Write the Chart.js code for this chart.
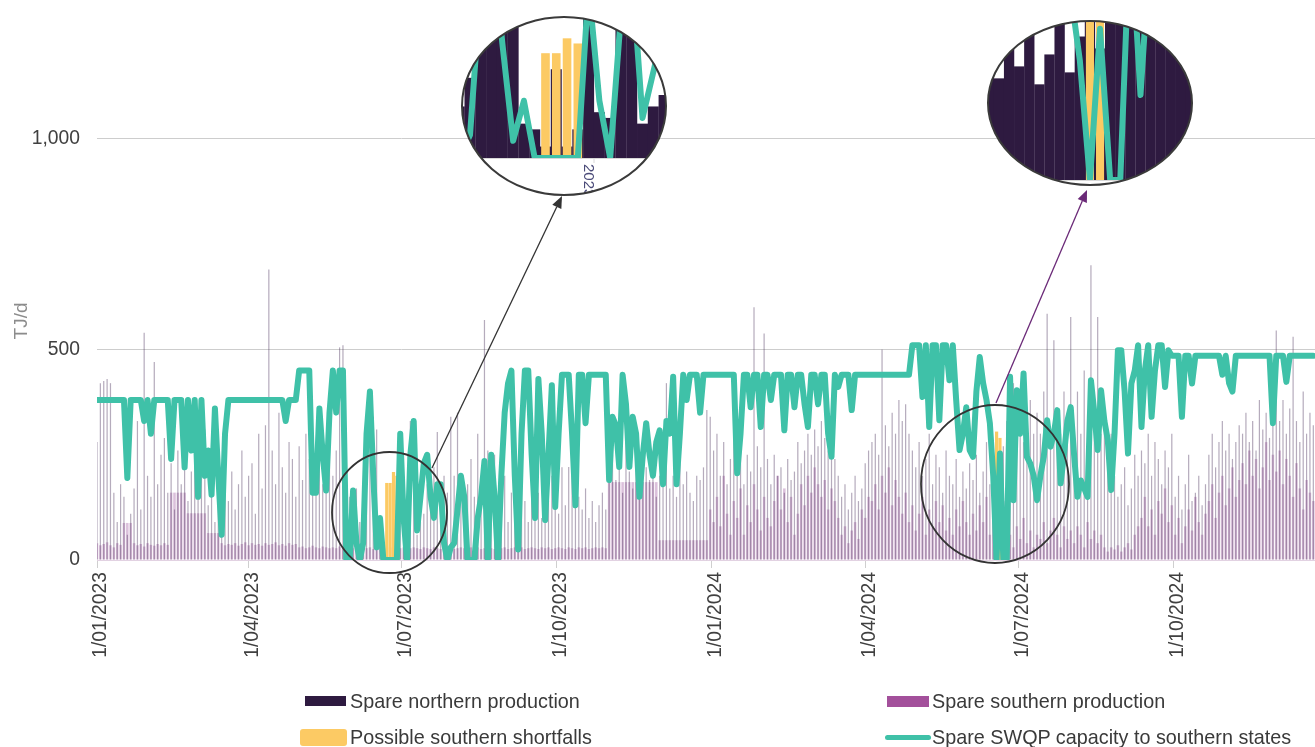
<!DOCTYPE html>
<html><head><meta charset="utf-8">
<script src="https://cdn.jsdelivr.net/npm/chart.js@4.4.1/dist/chart.umd.min.js"></script>
<style>
html,body{margin:0;padding:0;background:#fff;}
#wrap{position:relative;width:1315px;height:747px;overflow:hidden;}
canvas{position:absolute;left:0;top:0;}
.lg{position:absolute;font-family:"Liberation Sans",Arial,sans-serif;font-size:19.8px;color:#3a3a3a;white-space:nowrap;line-height:24px;}
.sw{position:absolute;}
</style></head><body>
<div id="wrap">
<canvas id="c" width="1315" height="747"></canvas>
<div class="sw" style="left:305px;top:696px;width:41px;height:10px;background:#2e1a40"></div>
<div class="lg" style="left:350px;top:689px">Spare northern production</div>
<div class="sw" style="left:887px;top:696px;width:42px;height:11px;background:#a3509b"></div>
<div class="lg" style="left:932px;top:689px">Spare southern production</div>
<div class="sw" style="left:300px;top:729px;width:47px;height:17px;background:#fcca64;border-radius:3px"></div>
<div class="lg" style="left:350px;top:725px">Possible southern shortfalls</div>
<div class="sw" style="left:885px;top:735px;width:46px;height:5px;background:#3fc1a8;border-radius:3px"></div>
<div class="lg" style="left:932px;top:725px">Spare SWQP capacity to southern states</div>
</div>
<script>
// ---- data (one value every 2 days from 1/01/2023) ----
const stepDays = 2;
const tickDays = [0, 90, 181, 273, 365, 456, 547, 639];
const tickLabels = ['1/01/2023','1/04/2023','1/07/2023','1/10/2023','1/01/2024','1/04/2024','1/07/2024','1/10/2024'];
const yTicks = [0, 500, 1000];

const swqp = [
380,380,380,380,380,380,380,380,380,195,
380,380,380,380,330,380,300,380,380,380,
380,380,240,380,380,380,220,380,260,380,
150,380,200,260,155,360,200,60,300,380,
380,380,380,380,380,380,380,380,380,380,
380,380,380,380,380,380,330,380,380,380,
450,450,450,450,160,160,360,250,165,350,
450,350,450,450,0,0,165,40,0,40,
300,400,200,30,100,0,0,0,0,0,
300,100,0,250,330,70,150,230,250,150,
100,180,180,40,0,30,40,120,200,150,
0,0,0,100,150,235,0,250,150,0,
200,350,420,450,200,25,300,450,450,250,
100,430,300,95,250,415,126,300,440,440,
440,300,130,440,440,325,440,440,440,440,
440,440,190,340,320,221,440,370,221,340,
300,150,250,325,250,200,280,308,180,330,
300,435,180,300,440,380,440,440,440,350,
440,440,440,440,440,440,440,440,440,440,
206,300,440,440,363,440,440,316,440,440,
380,440,440,440,308,440,440,363,440,440,
370,316,440,440,370,440,440,300,245,440,
411,440,440,440,356,440,440,440,440,440,
440,440,440,440,440,440,440,440,440,440,
440,440,510,510,510,387,510,316,510,510,
332,510,510,427,510,380,261,300,363,261,
245,400,482,420,380,325,200,0,253,0,
0,435,142,403,300,443,245,229,200,142,
200,245,332,269,300,356,182,250,330,363,
250,150,189,170,150,427,350,261,403,330,
285,166,300,498,498,400,253,419,450,510,
316,450,510,340,450,510,510,411,498,485,
485,485,340,485,485,419,485,485,485,485,
485,485,485,485,440,485,420,400,485,485,
485,485,485,485,485,485,485,485,485,325,
485,485,485,423,485,485,485,485,485,485,
485,485
];

const northern = [
280,420,425,430,420,160,90,180,150,60,
110,170,330,120,540,200,150,470,180,250,
290,160,230,120,260,180,300,140,210,250,
170,240,310,130,200,90,180,160,230,140,
210,120,180,260,150,200,230,110,300,170,
320,690,260,180,350,220,160,280,240,150,
270,190,300,240,160,210,280,180,250,310,
200,260,505,510,180,150,120,170,90,140,
330,320,340,310,60,50,20,155,20,50,
300,80,70,330,320,60,90,110,180,150,
220,304,180,200,160,340,200,350,160,130,
180,240,150,300,200,570,260,180,250,150,
120,200,90,160,130,100,180,140,90,150,
120,160,100,180,140,200,150,110,220,130,
221,200,221,150,120,170,100,140,90,130,
160,120,200,250,190,230,160,280,210,170,
250,180,300,220,190,260,150,200,230,420,
170,200,150,230,180,210,160,140,200,190,
220,356,340,260,300,200,280,180,240,300,
230,260,180,250,210,600,270,220,538,240,
180,250,200,220,160,240,190,210,280,230,
260,300,250,310,270,330,290,260,300,240,
200,150,180,120,160,200,140,170,230,260,
280,300,250,500,320,270,350,300,380,330,
370,300,260,220,280,200,240,300,180,250,
220,160,260,200,180,240,150,210,170,230,
190,250,160,210,280,180,240,300,220,270,
330,260,420,300,360,280,250,380,300,350,
300,400,585,300,522,350,300,400,350,577,
320,400,300,450,350,700,380,577,300,350,
250,300,200,150,180,220,130,170,250,200,
260,230,300,200,280,240,180,260,220,300,
150,200,120,180,250,140,160,200,130,180,
250,300,220,280,330,260,300,240,280,320,
300,350,280,330,260,380,310,350,290,360,
545,330,380,300,360,530,330,280,400,300,
350,320
];

const southern = [
40,35,38,42,35,30,40,36,88,88,
88,40,35,38,32,40,36,34,38,35,
40,36,160,160,160,160,160,111,111,111,
111,111,111,64,64,64,64,40,35,38,
36,40,34,38,42,35,40,36,38,34,
40,36,38,42,35,38,34,40,36,38,
30,32,28,30,34,30,28,32,30,28,
30,28,32,30,26,30,28,30,26,28,
28,30,26,28,30,26,28,30,28,26,
28,30,26,28,30,28,26,30,28,26,
30,28,26,30,28,30,26,28,30,28,
26,30,28,30,26,28,30,28,26,30,
28,30,26,28,30,28,30,26,28,30,
28,26,30,28,30,26,28,30,28,26,
30,28,26,30,28,30,26,28,30,28,
30,28,185,185,185,185,185,185,185,185,
185,185,185,185,185,185,185,47,47,47,
47,47,47,47,47,47,47,47,47,47,
47,47,120,90,150,80,200,110,60,140,
100,170,60,130,90,180,120,70,150,100,
80,140,200,120,170,90,150,60,110,180,
130,200,160,220,180,150,190,120,170,140,
100,60,80,40,70,90,50,120,100,150,
140,180,120,200,160,220,130,190,150,110,
160,90,130,70,110,150,60,120,80,140,
90,130,70,100,60,120,80,140,90,60,
110,70,130,90,150,60,100,120,80,140,
40,60,30,80,50,100,40,70,30,60,
50,90,40,70,100,60,30,80,50,70,
40,80,60,30,90,50,70,40,60,30,
20,30,25,35,20,30,40,25,60,80,
100,150,80,120,60,140,110,170,90,130,
60,100,40,80,120,70,150,90,60,110,
140,180,100,160,200,130,170,220,150,190,
230,180,260,200,240,170,220,280,190,250,
210,260,180,240,200,150,230,170,120,190,
160,140
];

const shortfallDays = [172, 174, 176, 178, 534, 536];
const shortfallValues = [183, 183, 209, 200, 305, 290];

// ---- colours ----
const TEAL = '#3fc1a8', NORTH = '#2e1a40', SOUTH = '#a3509b', YELLOW = '#fcca64';

const toXY = arr => arr.map((v, i) => ({x: i * stepDays, y: v}));

// magnified insets, drawn from the same data through the chart scales
const insets = [
  {cx: 564, cy: 106, rx: 102, ry: 89, ox: 594, oy: 158, anchorDay: 181, kx: 3.2, ky: 1.36, label: '2023'},
  {cx: 1090, cy: 103, rx: 102, ry: 82, ox: 1095, oy: 180, anchorDay: 535, kx: 3.0, ky: 1.42, label: ''}
];
const circles = [
  {cx: 389.5, cy: 512.5, rx: 57.5, ry: 60.5},
  {cx: 995, cy: 484, rx: 74, ry: 79}
];
const arrows = [
  {x1: 432, y1: 468, x2: 562, y2: 196, color: '#333333'},
  {x1: 996, y1: 403, x2: 1087, y2: 190, color: '#6b2a78'}
];

function drawArrow(ctx, a) {
  ctx.save();
  ctx.strokeStyle = a.color; ctx.fillStyle = a.color; ctx.lineWidth = 1.3;
  const ang = Math.atan2(a.y2 - a.y1, a.x2 - a.x1);
  const L = 12, W = 5;
  const bx = a.x2 - L * Math.cos(ang), by = a.y2 - L * Math.sin(ang);
  ctx.beginPath(); ctx.moveTo(a.x1, a.y1); ctx.lineTo(bx, by); ctx.stroke();
  ctx.beginPath();
  ctx.moveTo(a.x2, a.y2);
  ctx.lineTo(bx + W * Math.sin(ang), by - W * Math.cos(ang));
  ctx.lineTo(bx - W * Math.sin(ang), by + W * Math.cos(ang));
  ctx.closePath(); ctx.fill();
  ctx.restore();
}

function drawInset(chart, c) {
  const ctx = chart.ctx, xs = chart.scales.x, ys = chart.scales.y;
  const ax = xs.getPixelForValue(c.anchorDay), ay = ys.getPixelForValue(0);
  const X = d => c.ox + (xs.getPixelForValue(d) - ax) * c.kx;
  const Y = v => c.oy + (ys.getPixelForValue(v) - ay) * c.ky;
  const w = (xs.getPixelForValue(stepDays) - xs.getPixelForValue(0)) * c.kx;
  ctx.save();
  ctx.beginPath(); ctx.ellipse(c.cx, c.cy, c.rx, c.ry, 0, 0, Math.PI * 2);
  ctx.fillStyle = '#fff'; ctx.fill();
  ctx.clip();
  const inView = xc => xc > c.cx - c.rx - w && xc < c.cx + c.rx + w;
  ctx.fillStyle = NORTH;
  northern.forEach((v, i) => {
    const xc = X(i * stepDays); if (!inView(xc)) return;
    ctx.fillRect(xc - w * 0.51, Y(v), w * 1.02, c.oy - Y(v));
  });
  ctx.fillStyle = YELLOW;
  shortfallDays.forEach((d, i) => {
    const xc = X(d); if (!inView(xc)) return;
    const y0 = Y(shortfallValues[i]);
    ctx.fillRect(xc - w * 0.4, y0, w * 0.8, c.oy - y0);
  });
  ctx.beginPath();
  let first = true;
  swqp.forEach((v, i) => {
    const xc = X(i * stepDays);
    if (xc < c.cx - c.rx - 40 || xc > c.cx + c.rx + 40) return;
    if (first) { ctx.moveTo(xc, Y(v)); first = false; } else ctx.lineTo(xc, Y(v));
  });
  ctx.strokeStyle = TEAL; ctx.lineWidth = 6; ctx.lineJoin = 'round'; ctx.stroke();
  // white area below baseline
  ctx.fillStyle = '#fff';
  ctx.fillRect(c.cx - c.rx, c.oy + 1, c.rx * 2, c.ry * 2);
  ctx.strokeStyle = '#d8d8d8'; ctx.lineWidth = 1;
  ctx.beginPath(); ctx.moveTo(c.cx - c.rx, c.oy + 0.5); ctx.lineTo(c.cx + c.rx, c.oy + 0.5); ctx.stroke();
  if (c.label) {
    ctx.beginPath(); ctx.moveTo(c.ox, c.oy); ctx.lineTo(c.ox, c.oy + 5); ctx.stroke();
    ctx.translate(c.ox - 6, c.oy + 6);
    ctx.rotate(Math.PI / 2);
    ctx.fillStyle = '#4a4a78';
    ctx.font = '15px "Liberation Sans", Arial, sans-serif';
    ctx.textBaseline = 'middle';
    ctx.fillText(c.label, 0, 0);
  }
  ctx.restore();
  ctx.save();
  ctx.beginPath(); ctx.ellipse(c.cx, c.cy, c.rx, c.ry, 0, 0, Math.PI * 2);
  ctx.strokeStyle = '#3a3a3a'; ctx.lineWidth = 2; ctx.stroke();
  ctx.restore();
}

const decor = {
  id: 'decor',
  afterDraw(chart) {
    const ctx = chart.ctx;
    // axis title
    ctx.save();
    ctx.translate(22, 321); ctx.rotate(-Math.PI / 2);
    ctx.font = '19px "Liberation Sans", Arial, sans-serif';
    ctx.fillStyle = '#8c8c8c'; ctx.textAlign = 'center'; ctx.textBaseline = 'middle';
    ctx.fillText('TJ/d', 0, 0);
    ctx.restore();
    // circles
    circles.forEach(c => {
      ctx.save(); ctx.beginPath(); ctx.ellipse(c.cx, c.cy, c.rx, c.ry, 0, 0, Math.PI * 2);
      ctx.strokeStyle = '#333'; ctx.lineWidth = 1.8; ctx.stroke(); ctx.restore();
    });
    arrows.forEach(a => drawArrow(ctx, a));
    insets.forEach(c => drawInset(chart, c));
  }
};

const noPad = s => { s.paddingLeft = 0; s.paddingRight = 0; s.paddingTop = 0; s.paddingBottom = 0; };

new Chart(document.getElementById('c'), {
  type: 'bar',
  data: {
    datasets: [
      {type: 'line', label: 'Spare SWQP capacity to southern states', data: toXY(swqp),
       borderColor: TEAL, borderWidth: 6, pointRadius: 0, tension: 0, borderJoinStyle: 'round', borderCapStyle: 'round', order: 0},
      {label: 'Possible southern shortfalls', data: shortfallDays.map((d, i) => ({x: d, y: shortfallValues[i]})),
       backgroundColor: YELLOW, grouped: false, barPercentage: 0.95, categoryPercentage: 1, order: 1},
      {label: 'Spare northern production', data: toXY(northern),
       backgroundColor: 'rgba(70,45,88,0.40)', grouped: false, barPercentage: 0.36, categoryPercentage: 1, order: 2},
      {label: 'Spare southern production', data: toXY(southern),
       backgroundColor: 'rgba(170,105,170,0.42)', grouped: false, barPercentage: 0.75, categoryPercentage: 1, order: 3}
    ]
  },
  options: {
    responsive: false,
    animation: false,
    layout: {padding: 0},
    plugins: {legend: {display: false}, tooltip: {enabled: false}},
    scales: {
      x: {
        type: 'linear', min: 0, max: 723, offset: false,
        afterBuildTicks: s => { s.ticks = tickDays.map(v => ({value: v})); },
        afterFit: s => { s.height = 187; noPad(s); },
        ticks: {
          autoSkip: false, maxRotation: 90, minRotation: 90, padding: 4, labelOffset: 4,
          color: '#404040', font: {family: '"Liberation Sans", Arial, sans-serif', size: 19.3},
          callback: v => tickLabels[tickDays.indexOf(v)]
        },
        grid: {offset: false, drawOnChartArea: false, drawTicks: true, tickLength: 8, color: '#cfcfcf'},
        border: {display: true, color: '#e2d2e2'}
      },
      y: {
        min: 0, max: 1330,
        afterBuildTicks: s => { s.ticks = yTicks.map(v => ({value: v})); },
        afterFit: s => { s.width = 97; noPad(s); },
        ticks: {
          padding: 17, color: '#404040', font: {family: '"Liberation Sans", Arial, sans-serif', size: 19.3},
          callback: v => v.toLocaleString('en-US')
        },
        grid: {drawTicks: false, color: '#cdcdcd', lineWidth: 1},
        border: {display: false}
      }
    }
  },
  plugins: [decor]
});
</script>
</body></html>
